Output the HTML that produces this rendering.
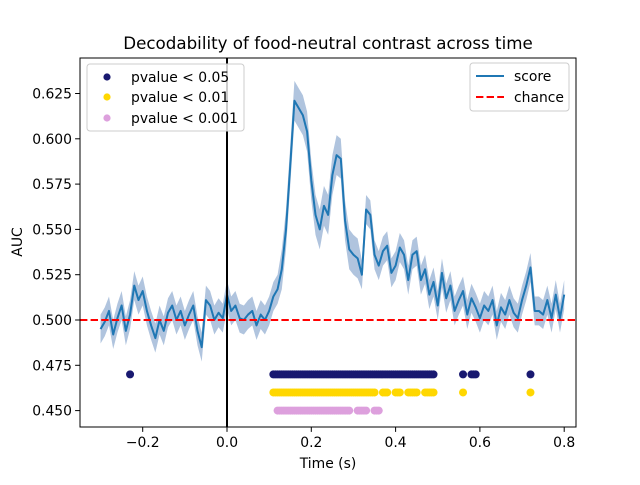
<!DOCTYPE html>
<html><head><meta charset="utf-8"><style>
body{margin:0;background:#fff}
svg text{font-family:"DejaVu Sans","Liberation Sans",sans-serif;fill:#000}
</style></head><body>
<svg id="c" width="640" height="480" xmlns="http://www.w3.org/2000/svg"></svg>
<script>
const times=[];for(let i=0;i<=110;i++)times.push(+(-0.30+i*0.01).toFixed(2));
const scores=[0.495,0.499,0.505,0.492,0.501,0.508,0.494,0.503,0.519,0.511,0.516,0.505,0.497,0.490,0.500,0.494,0.504,0.508,0.500,0.505,0.497,0.503,0.508,0.494,0.485,0.511,0.508,0.500,0.504,0.501,0.514,0.505,0.508,0.501,0.500,0.503,0.505,0.497,0.503,0.500,0.505,0.513,0.517,0.528,0.550,0.585,0.621,0.617,0.613,0.604,0.577,0.558,0.550,0.563,0.558,0.580,0.591,0.589,0.555,0.539,0.536,0.534,0.525,0.561,0.558,0.536,0.530,0.538,0.541,0.526,0.530,0.540,0.536,0.522,0.536,0.538,0.522,0.528,0.514,0.521,0.508,0.526,0.512,0.519,0.505,0.511,0.516,0.503,0.512,0.507,0.501,0.508,0.505,0.511,0.497,0.507,0.503,0.511,0.504,0.501,0.511,0.519,0.529,0.505,0.505,0.503,0.511,0.501,0.514,0.501,0.514];
const sems=times.map((t,i)=> (t>0.12&&t<0.32)?0.011:0.008);
const sig05=[[-0.23,-0.23],[0.11,0.49],[0.56,0.56],[0.58,0.59],[0.72,0.72]];
const sig01=[[0.11,0.35],[0.37,0.38],[0.40,0.41],[0.43,0.45],[0.47,0.49],[0.56,0.56],[0.72,0.72]];
const sig001=[[0.12,0.29],[0.31,0.33],[0.35,0.36]];
const xTicks=[-0.2,0.0,0.2,0.4,0.6,0.8];
const yTicks=[0.450,0.475,0.500,0.525,0.550,0.575,0.600,0.625];
const L=80,R=576,T=58,B=427;
const X=t=>227+t*421.5;
const Y=v=>320-(v-0.5)/0.025*45.3;
const svg=document.getElementById('c');const NS='http://www.w3.org/2000/svg';
function mk(tag,attrs,parent,name,text){const e=document.createElementNS(NS,tag);for(const k in attrs)e.setAttribute(k,attrs[k]);


if(text!==undefined)e.textContent=text;(parent||svg).appendChild(e);return e;}
let up=times.map((t,i)=>X(t)+','+Y(scores[i]+sems[i]));let dn=times.map((t,i)=>X(t)+','+Y(scores[i]-sems[i])).reverse();
mk('polygon',{points:up.concat(dn).join(' '),fill:'#b0c4de',stroke:'none'},svg,'score-sem-band');
mk('polyline',{points:times.map((t,i)=>X(t)+','+Y(scores[i])).join(' '),fill:'none',stroke:'#1f77b4','stroke-width':2,'stroke-linejoin':'round'},svg,'score-line');
mk('line',{x1:L,x2:R,y1:Y(0.5),y2:Y(0.5),stroke:'#ff0000','stroke-width':2,'stroke-dasharray':'7.4,3.2'},svg,'chance-line');
mk('line',{x1:X(0),x2:X(0),y1:T,y2:B,stroke:'#000','stroke-width':2},svg,'time-zero-line');
function dots(ranges,yv,col,name){ranges.forEach(r=>{for(let t=r[0];t<=r[1]+1e-6;t+=0.005){mk('circle',{cx:X(t),cy:Y(yv),r:4,fill:col},svg,name);}});}
dots(sig05,0.47,'#191970','sig-dot-p05');dots(sig01,0.46,'#ffd700','sig-dot-p01');dots(sig001,0.45,'#dda0dd','sig-dot-p001');
mk('rect',{x:L,y:T,width:R-L,height:B-T,fill:'none',stroke:'#000','stroke-width':1},svg,'plot-frame');
xTicks.forEach(t=>{mk('line',{x1:X(t),x2:X(t),y1:B,y2:B+4.9,stroke:'#000','stroke-width':1},svg,'x-tick');
mk('text',{x:X(t),y:B+20,'font-size':13.9,'text-anchor':'middle'},svg,'x-tick-label',t.toFixed(1).replace('-','−'));});
yTicks.forEach(v=>{mk('line',{x1:L-4.9,x2:L,y1:Y(v),y2:Y(v),stroke:'#000','stroke-width':1},svg,'y-tick');
mk('text',{x:L-8,y:Y(v)+5,'font-size':13.9,'text-anchor':'end'},svg,'y-tick-label',v.toFixed(3));});
mk('text',{x:328,y:468,'font-size':13.9,'text-anchor':'middle'},svg,'x-axis-title','Time (s)');
mk('text',{x:22,y:242,'font-size':13.9,'text-anchor':'middle',transform:'rotate(-90 22 242)'},svg,'y-axis-title','AUC');
mk('text',{x:328,y:49,'font-size':16.7,'text-anchor':'middle'},svg,'chart-title','Decodability of food-neutral contrast across time');
const lg1=mk('g',{},svg,'significance-legend');
mk('rect',{x:87,y:64,width:157,height:67,rx:3,fill:'#fff','fill-opacity':0.8,stroke:'#ccc'},lg1,'legend-box');
[['pvalue < 0.05','#191970',77],['pvalue < 0.01','#ffd700',97],['pvalue < 0.001','#dda0dd',118]].forEach(a=>{
mk('circle',{cx:107,cy:a[2],r:3.6,fill:a[1]},lg1,'legend-marker');
mk('text',{x:131,y:a[2]+5,'font-size':13.9},lg1,'legend-label',a[0]);});
const lg2=mk('g',{},svg,'series-legend');
mk('rect',{x:470,y:63,width:99,height:48,rx:3,fill:'#fff','fill-opacity':0.8,stroke:'#ccc'},lg2,'legend-box');
mk('line',{x1:476,x2:504,y1:76,y2:76,stroke:'#1f77b4','stroke-width':2},lg2,'legend-score-line');
mk('text',{x:514,y:81,'font-size':13.9},lg2,'legend-label','score');
mk('line',{x1:476,x2:504,y1:97,y2:97,stroke:'#ff0000','stroke-width':2,'stroke-dasharray':'7.4,3.2'},lg2,'legend-chance-line');
mk('text',{x:514,y:102,'font-size':13.9},lg2,'legend-label','chance');
</script>
</body></html>
